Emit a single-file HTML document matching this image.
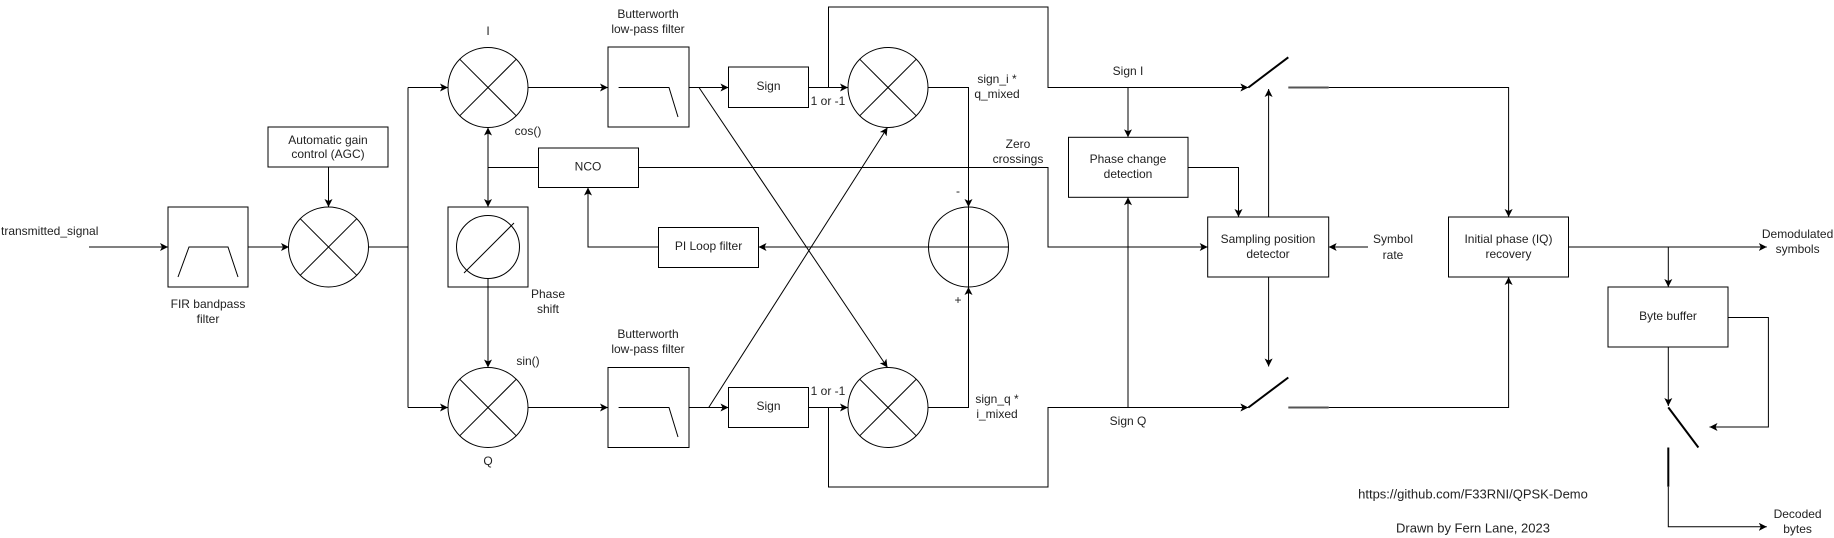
<!DOCTYPE html>
<html><head><meta charset="utf-8"><style>
html,body{margin:0;padding:0;background:#fff;}
svg{display:block;}
text{font-family:"Liberation Sans",sans-serif;font-size:12px;fill:#222;text-anchor:middle;dominant-baseline:middle;}
</style></head><body>
<svg width="1834" height="538" viewBox="0 0 1834 538" xmlns="http://www.w3.org/2000/svg">
<defs>
<marker id="a" markerUnits="userSpaceOnUse" markerWidth="10" markerHeight="10" refX="8" refY="4" orient="auto">
<path d="M0,0 L8,4 L0,8 L2,4 z" fill="#000"/>
</marker>
</defs>
<g fill="none" stroke="#000" stroke-width="1">
<line x1="89" y1="247" x2="168" y2="247" marker-end="url(#a)"/>
<rect x="168" y="207" width="80" height="80"/>
<polyline points="178,277 189,247 228,247 238,277"/>
<line x1="248" y1="247" x2="289" y2="247" marker-end="url(#a)"/>
<rect x="268" y="127" width="120" height="40"/>
<line x1="328.5" y1="167" x2="328.5" y2="207" marker-end="url(#a)"/>
<circle cx="328.5" cy="247" r="40"/>
<line x1="300.2" y1="218.7" x2="356.8" y2="275.3"/><line x1="356.8" y1="218.7" x2="300.2" y2="275.3"/>
<polyline points="368.5,247 408,247"/>
<polyline points="408,87.5 408,407.5"/>
<line x1="408" y1="87.5" x2="448" y2="87.5" marker-end="url(#a)"/>
<line x1="408" y1="407.5" x2="448" y2="407.5" marker-end="url(#a)"/>
<circle cx="488" cy="87.5" r="40"/>
<line x1="459.7" y1="59.2" x2="516.3" y2="115.8"/><line x1="516.3" y1="59.2" x2="459.7" y2="115.8"/>
<circle cx="488" cy="407.5" r="40"/>
<line x1="459.7" y1="379.2" x2="516.3" y2="435.8"/><line x1="516.3" y1="379.2" x2="459.7" y2="435.8"/>
<rect x="538.5" y="148" width="100" height="39.5"/>
<line x1="538.5" y1="167.5" x2="488" y2="167.5"/>
<line x1="488" y1="167.5" x2="488" y2="127.5" marker-end="url(#a)"/>
<line x1="488" y1="167.5" x2="488" y2="207" marker-end="url(#a)"/>
<rect x="448" y="207" width="80" height="80"/>
<ellipse cx="488" cy="247" rx="31.5" ry="31.5"/>
<line x1="464" y1="273" x2="514" y2="223"/>
<line x1="488" y1="278.5" x2="488" y2="367.5" marker-end="url(#a)"/>
<line x1="528" y1="87.5" x2="608" y2="87.5" marker-end="url(#a)"/>
<line x1="528" y1="407.5" x2="608" y2="407.5" marker-end="url(#a)"/>
<rect x="608" y="47" width="81" height="80"/>
<polyline points="618.6,87.5 669,87.5 678,117"/>
<rect x="608" y="367.5" width="81" height="80"/>
<polyline points="618.6,407.5 669,407.5 678,437"/>
<line x1="689" y1="87.5" x2="728.5" y2="87.5" marker-end="url(#a)"/>
<rect x="728.5" y="67" width="80" height="40.5"/>
<line x1="689" y1="407.5" x2="728.5" y2="407.5" marker-end="url(#a)"/>
<rect x="728.5" y="387.5" width="80" height="40"/>
<line x1="808.5" y1="87.5" x2="848" y2="87.5" marker-end="url(#a)"/>
<line x1="808.5" y1="407.5" x2="848" y2="407.5" marker-end="url(#a)"/>
<circle cx="888" cy="87.5" r="40"/>
<line x1="859.7" y1="59.2" x2="916.3" y2="115.8"/><line x1="916.3" y1="59.2" x2="859.7" y2="115.8"/>
<circle cx="888" cy="407.5" r="40"/>
<line x1="859.7" y1="379.2" x2="916.3" y2="435.8"/><line x1="916.3" y1="379.2" x2="859.7" y2="435.8"/>
<line x1="699" y1="87.5" x2="887.5" y2="367.5" marker-end="url(#a)"/>
<line x1="708.7" y1="407.5" x2="887.5" y2="127.5" marker-end="url(#a)"/>
<polyline points="928,87.5 968.5,87.5 968.5,207" marker-end="url(#a)"/>
<polyline points="928,407.5 968.5,407.5 968.5,287" marker-end="url(#a)"/>
<circle cx="968.5" cy="247" r="40"/>
<line x1="968.5" y1="207" x2="968.5" y2="287"/><line x1="928.5" y1="247" x2="1008.5" y2="247"/>
<line x1="928.5" y1="247" x2="758.5" y2="247" marker-end="url(#a)"/>
<rect x="658.5" y="227.5" width="100" height="40"/>
<polyline points="658.5,247 588,247 588,187.5" marker-end="url(#a)"/>
<polyline points="828.5,87.5 828.5,7 1048,7 1048,87.5 1248.4,87.5" marker-end="url(#a)"/>
<polyline points="828.5,407.5 828.5,487 1048,487 1048,407.5 1248.4,407.5" marker-end="url(#a)"/>
<polyline points="638.5,167.5 1048,167.5 1048,247 1207.7,247" marker-end="url(#a)"/>
<line x1="1128" y1="87.5" x2="1128" y2="137.3" marker-end="url(#a)"/>
<line x1="1128" y1="407.5" x2="1128" y2="197.3" marker-end="url(#a)"/>
<rect x="1068.5" y="137.3" width="119.5" height="60"/>
<polyline points="1188,167.5 1238.5,167.5 1238.5,217" marker-end="url(#a)"/>
<rect x="1207.7" y="217" width="121" height="60"/>
<line x1="1268.6" y1="217" x2="1268.6" y2="89" marker-end="url(#a)"/>
<line x1="1268.6" y1="277" x2="1268.6" y2="366.5" marker-end="url(#a)"/>
<line x1="1368" y1="247" x2="1328.7" y2="247" marker-end="url(#a)"/>
<line x1="1248.4" y1="87.5" x2="1288.3" y2="57.3" stroke-width="2"/>
<line x1="1288.3" y1="87.5" x2="1328.7" y2="87.5" stroke="#555" stroke-width="2"/>
<polyline points="1328.7,87.5 1508.6,87.5 1508.6,217" marker-end="url(#a)"/>
<line x1="1248.4" y1="407.5" x2="1288.3" y2="377.5" stroke-width="2"/>
<line x1="1288.3" y1="407.5" x2="1328.7" y2="407.5" stroke="#555" stroke-width="2"/>
<polyline points="1328.7,407.5 1508.6,407.5 1508.6,277" marker-end="url(#a)"/>
<rect x="1448.5" y="217" width="120" height="60"/>
<line x1="1568.5" y1="247" x2="1766.8" y2="247" marker-end="url(#a)"/>
<line x1="1668.3" y1="247" x2="1668.3" y2="287" marker-end="url(#a)"/>
<rect x="1608" y="287" width="120" height="60"/>
<polyline points="1728,317.5 1768.4,317.5 1768.4,427 1709.5,427" marker-end="url(#a)"/>
<line x1="1668.3" y1="347" x2="1668.3" y2="406" marker-end="url(#a)"/>
<line x1="1668.3" y1="407.4" x2="1698.4" y2="447.5" stroke-width="2"/>
<line x1="1668.3" y1="447.5" x2="1668.3" y2="486.7" stroke-width="2"/>
<polyline points="1668.3,486.7 1668.3,526.8 1766.8,526.8" marker-end="url(#a)"/>
</g>
<text x="1" y="232" style="text-anchor:start">transmitted_signal</text>
<text x="208" y="305">FIR bandpass</text><text x="208" y="320">filter</text>
<text x="328" y="141">Automatic gain</text><text x="328" y="155">control (AGC)</text>
<text x="488" y="32">I</text>
<text x="528" y="132">cos()</text>
<text x="588" y="167.5">NCO</text>
<text x="548" y="295">Phase</text><text x="548" y="310">shift</text>
<text x="528" y="362">sin()</text>
<text x="488" y="462">Q</text>
<text x="648" y="15">Butterworth</text><text x="648" y="30">low-pass filter</text>
<text x="648" y="335">Butterworth</text><text x="648" y="350">low-pass filter</text>
<text x="768.5" y="87">Sign</text>
<text x="768.5" y="407">Sign</text>
<text x="828" y="102">1 or -1</text>
<text x="828" y="392">1 or -1</text>
<text x="997" y="80">sign_i *</text><text x="997" y="95">q_mixed</text>
<text x="997" y="400">sign_q *</text><text x="997" y="415">i_mixed</text>
<text x="958" y="192">-</text><text x="958" y="301">+</text>
<text x="708.5" y="247">PI Loop filter</text>
<text x="1018" y="145">Zero</text><text x="1018" y="160">crossings</text>
<text x="1128" y="72">Sign I</text>
<text x="1128" y="422">Sign Q</text>
<text x="1128" y="160">Phase change</text><text x="1128" y="175">detection</text>
<text x="1268" y="240">Sampling position</text><text x="1268" y="255">detector</text>
<text x="1393" y="240">Symbol</text><text x="1393" y="256">rate</text>
<text x="1508.5" y="240">Initial phase (IQ)</text><text x="1508.5" y="255">recovery</text>
<text x="1797.6" y="235">Demodulated</text><text x="1797.6" y="250">symbols</text>
<text x="1668" y="317">Byte buffer</text>
<text x="1797.6" y="515">Decoded</text><text x="1797.6" y="530">bytes</text>
<text x="1473" y="495" style="font-size:13px">https://github.com/F33RNI/QPSK-Demo</text>
<text x="1473" y="529" style="font-size:13px">Drawn by Fern Lane, 2023</text>
</svg>
</body></html>
